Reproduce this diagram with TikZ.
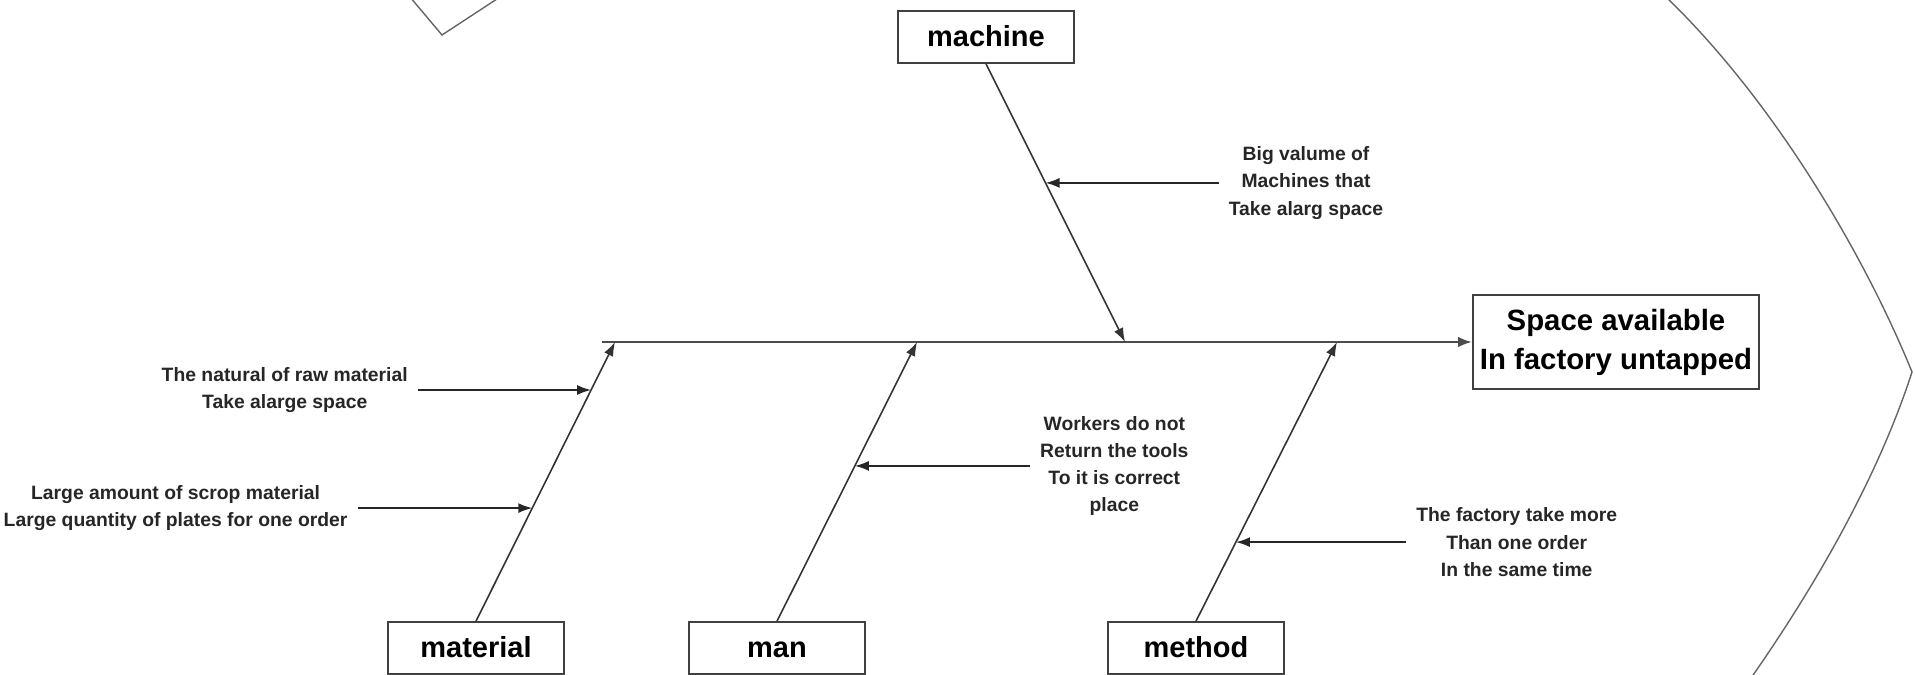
\documentclass[tikz,border=0pt]{standalone}
\usepackage{fontspec}
\setmainfont{Liberation Sans}
\usetikzlibrary{%
    arrows.meta,
    calc,
    positioning
}
\tikzset{
    catbox/.style = {draw=black!75, line width=1pt, minimum width=35.2mm, minimum height=10.4mm, inner sep=0pt, text height=13pt, text depth=2.5pt, font=\bfseries\fontsize{16.5}{20}\selectfont},
    effectbox/.style = {draw=black!75, line width=1pt, minimum width=57.2mm, minimum height=18.8mm, inner sep=0pt, align=center, font=\bfseries\fontsize{16.7}{22.2}\selectfont},
    causetext/.style = {inner sep=0pt, align=center, text=black!85, font=\bfseries\fontsize{11}{15.5}\selectfont},
    causearrow/.style = {draw=black!85, line width=1pt, shorten <=2mm, -{Latex[length=2.8mm,width=2mm]}},
    bonearrow/.style = {draw=black!80, line width=.9pt, -{Latex[length=2.8mm,width=2mm]}},
    spinearrow/.style = {draw=black!70, line width=1.4pt, -{Latex[length=2.8mm,width=2.1mm]}},
    outline/.style = {draw=black!60, line width=.8pt}
}

\begin{document}
\begin{tikzpicture}[x=0.2mm, y=-0.2mm]
    \useasboundingbox (0,0) rectangle (1915,675);

    \node (effect) [effectbox] at (1616,342) {Space available\\In factory untapped};
    \coordinate (tail) at (602,342);
    \draw[spinearrow] (tail) -- (effect.west);

    \node (machine) [catbox] at (986,37) {machine};
    \node (material) [catbox] at (476,648) {material};
    \node (man) [catbox] at (777,648) {man};
    \node (method) [catbox] at (1196,648) {method};

    \coordinate (materialT) at (615,342);
    \coordinate (manT) at (917,342);
    \coordinate (machineT) at (1125,342);
    \coordinate (methodT) at (1337,342);

    \draw[bonearrow] (material.north) -- (materialT);
    \draw[bonearrow] (man.north) -- (manT);
    \draw[bonearrow] (method.north) -- (methodT);
    \draw[bonearrow] (machine.south) -- (machineT);

    \coordinate (mat1) at ($(material.north)!0.828!(materialT)$);
    \coordinate (mat2) at ($(material.north)!0.405!(materialT)$);
    \coordinate (man1) at ($(man.north)!0.556!(manT)$);
    \coordinate (mac1) at ($(machine.south)!0.428!(machineT)$);
    \coordinate (met1) at ($(method.north)!0.283!(methodT)$);

    \node (cause1) [causetext, left=36.6mm of mat1] {The natural of raw material\\Take alarge space};
    \node (cause2) [causetext, left=36.9mm of mat2] {Large amount of scrop material\\Large quantity of plates for one order};
    \node (cause3) [causetext, right=37mm of man1] {Workers do not\\Return the tools\\To it is correct\\place};
    \node (cause4) [causetext, right=36.6mm of mac1] {Big valume of\\Machines that\\Take alarg space};
    \node (cause5) [causetext, right=36mm of met1] {The factory take more\\Than one order\\In the same time};

    \draw[causearrow] (cause1.east) -- (mat1);
    \draw[causearrow] (cause2.east) -- (mat2);
    \draw[causearrow] (cause3.west) -- (man1);
    \draw[causearrow] (cause4.west) -- (mac1);
    \draw[causearrow] (cause5.west) -- (met1);

    \draw[outline] (1666,-3) .. controls (1778,105) and (1867,261) .. (1912,372)
        .. controls (1878,477) and (1816,585) .. (1751,678);
    \draw[outline] (410,-3) -- (442,35) -- (500,-3);
\end{tikzpicture}
\end{document}
